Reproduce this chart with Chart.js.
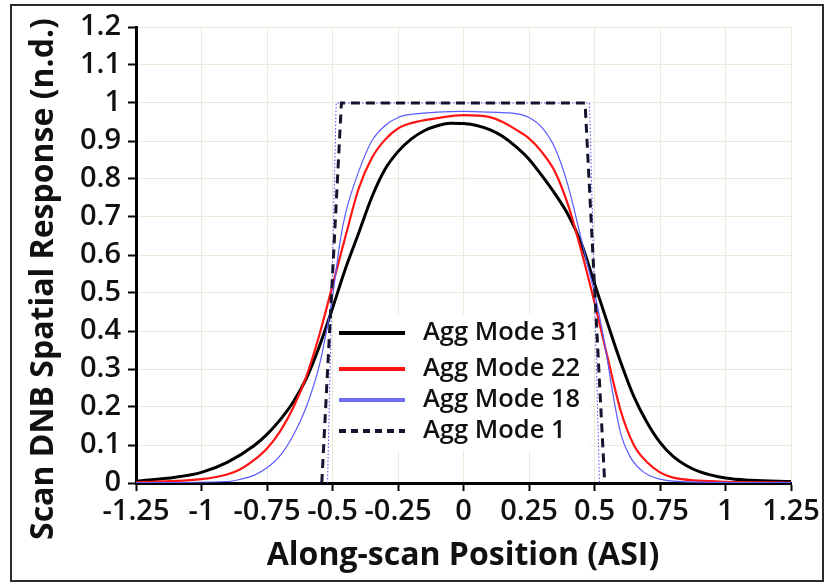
<!DOCTYPE html>
<html>
<head>
<meta charset="utf-8">
<script src="https://cdn.jsdelivr.net/npm/chart.js@4.4.1/dist/chart.umd.min.js"></script>
<style>
  html, body { margin: 0; padding: 0; background: #fff; }
  #wrap { position: relative; width: 837px; height: 584px; }
  #wrap canvas { position: absolute; left: 0; top: 0; }
  #frame { position: absolute; left: 10px; top: 4px; width: 814px; height: 578px;
           border: 2px solid #2b2b2b; box-sizing: border-box; pointer-events: none; }
</style>
</head>
<body>
<div id="wrap">
  <canvas id="respChart" width="837" height="584"></canvas>
  <div id="frame"></div>
</div>
<script>
// ejes
const xTicks = [-1.25, -1, -0.75, -0.5, -0.25, 0, 0.25, 0.5, 0.75, 1, 1.25];
const xTickLabels = ['-1.25', '-1', '-0.75', '-0.5', '-0.25', '0', '0.25', '0.5', '0.75', '1', '1.25'];
const yTicks = [0, 0.1, 0.2, 0.3, 0.4, 0.5, 0.6, 0.7, 0.8, 0.9, 1, 1.1, 1.2];
const yTickLabels = ['0', '0.1', '0.2', '0.3', '0.4', '0.5', '0.6', '0.7', '0.8', '0.9', '1', '1.1', '1.2'];

const xTitle = 'Along-scan Position (ASI)';
const yTitle = 'Scan DNB Spatial Response (n.d.)';
const legendLabels = ['Agg Mode 31', 'Agg Mode 22', 'Agg Mode 18', 'Agg Mode 1'];

// Agg Mode 31 (negro)
const mode31X = [-1.25, -1.1, -1, -0.9, -0.8, -0.75, -0.7, -0.65, -0.6, -0.55, -0.5, -0.45, -0.4, -0.35, -0.3, -0.25, -0.2, -0.15, -0.1, -0.05, 0, 0.05, 0.1, 0.15, 0.2, 0.25, 0.3, 0.35, 0.4, 0.45, 0.5, 0.55, 0.6, 0.65, 0.7, 0.75, 0.8, 0.85, 0.9, 1, 1.1, 1.25];
const mode31Y = [0.005, 0.015, 0.028, 0.055, 0.098, 0.128, 0.166, 0.213, 0.275, 0.36, 0.46, 0.565, 0.658, 0.752, 0.825, 0.872, 0.905, 0.927, 0.94, 0.947, 0.946, 0.941, 0.93, 0.912, 0.885, 0.852, 0.808, 0.76, 0.705, 0.63, 0.525, 0.42, 0.318, 0.228, 0.16, 0.107, 0.07, 0.046, 0.03, 0.013, 0.007, 0.004];

// Agg Mode 22 (rojo)
const mode22X = [-1.25, -1, -0.9, -0.85, -0.8, -0.75, -0.7, -0.65, -0.6, -0.55, -0.5, -0.45, -0.4, -0.35, -0.3, -0.25, -0.2, -0.1, 0, 0.1, 0.15, 0.2, 0.25, 0.3, 0.35, 0.4, 0.45, 0.5, 0.55, 0.6, 0.65, 0.7, 0.75, 0.8, 0.9, 1, 1.25];
const mode22Y = [0.002, 0.01, 0.023, 0.037, 0.06, 0.091, 0.136, 0.198, 0.28, 0.39, 0.52, 0.65, 0.775, 0.855, 0.903, 0.933, 0.947, 0.96, 0.968, 0.963, 0.95, 0.93, 0.907, 0.87, 0.818, 0.73, 0.61, 0.475, 0.33, 0.19, 0.1, 0.055, 0.028, 0.014, 0.006, 0.003, 0.001];

// Agg Mode 18 (azul)
const mode18X = [-1.25, -0.9, -0.85, -0.8, -0.75, -0.7, -0.65, -0.6, -0.55, -0.52, -0.5, -0.47, -0.45, -0.4, -0.35, -0.3, -0.25, -0.2, -0.1, 0, 0.1, 0.2, 0.25, 0.3, 0.35, 0.4, 0.45, 0.475, 0.5, 0.53, 0.55, 0.575, 0.6, 0.635, 0.685, 0.75, 0.85, 1.25];
const mode18Y = [0.001, 0.004, 0.01, 0.02, 0.04, 0.072, 0.125, 0.2, 0.31, 0.41, 0.49, 0.64, 0.71, 0.82, 0.9, 0.94, 0.962, 0.97, 0.976, 0.978, 0.976, 0.972, 0.962, 0.935, 0.88, 0.78, 0.64, 0.57, 0.5, 0.4, 0.32, 0.215, 0.13, 0.07, 0.03, 0.01, 0.003, 0.001];

// Agg Mode 1 (trazos)
const mode1X = [-0.541, -0.466, 0.464, 0.539];
const mode1Y = [0, 1, 1, 0];

// contorno punteado azul
const boxX = [-0.519, -0.486, 0.481, 0.519];
const boxY = [0, 1, 1, 0];

const toPoints = (xs, ys) => xs.map((x, i) => ({ x: x, y: ys[i] }));

const FONT = '"Open Sans", "DejaVu Sans", sans-serif';

const overlayPlugin = {
    id: 'overlay',
    beforeDatasetsDraw(chart) {
        // fondo blanco de la leyenda
        const ctx = chart.ctx;
        ctx.save();
        ctx.fillStyle = '#ffffff';
        ctx.fillRect(334, 314, 256, 136);
        ctx.restore();
    },
    afterDraw(chart) {
        const ctx = chart.ctx;
        ctx.save();

        // leyenda
        const rows = [333, 369, 400, 431];
        chart.data.datasets.forEach((ds) => {
            if (ds.legendIndex === undefined) return;
            const y = rows[ds.legendIndex];
            ctx.beginPath();
            ctx.strokeStyle = ds.legendColor || ds.borderColor;
            ctx.lineWidth = 4;
            ctx.setLineDash(ds.borderDash && ds.borderDash.length ? [7, 5] : []);
            ctx.moveTo(339, y);
            ctx.lineTo(405, y);
            ctx.stroke();
            ctx.setLineDash([]);
            ctx.fillStyle = '#111';
            ctx.font = '600 25.5px ' + FONT;
            ctx.textAlign = 'left';
            ctx.textBaseline = 'middle';
            ctx.fillText(ds.label, 423, y);
        });

        // títulos de ejes
        ctx.fillStyle = '#111';
        ctx.font = '700 32px ' + FONT;
        ctx.textAlign = 'center';
        ctx.textBaseline = 'middle';
        ctx.fillText(xTitle, 463, 556);

        ctx.translate(44, 279);
        ctx.rotate(-Math.PI / 2);
        ctx.fillText(yTitle, 0, 0);
        ctx.restore();
    }
};

const ctx = document.getElementById('respChart').getContext('2d');
const chart = new Chart(ctx, {
    type: 'line',
    data: {
        datasets: [
            {
                label: legendLabels[3],
                data: toPoints(mode1X, mode1Y),
                borderColor: '#14142e',
                borderWidth: 3,
                borderDash: [9, 6],
                tension: 0,
                pointRadius: 0,
                order: 0,
                legendIndex: 3
            },
            {
                label: 'box',
                data: toPoints(boxX, boxY),
                borderColor: '#4d4dff',
                borderWidth: 1,
                borderDash: [1.5, 2],
                tension: 0,
                pointRadius: 0,
                order: 1
            },
            {
                label: legendLabels[2],
                data: toPoints(mode18X, mode18Y),
                borderColor: '#5a5aff',
                legendColor: '#6d6df2',
                borderWidth: 1.2,
                cubicInterpolationMode: 'monotone',
                pointRadius: 0,
                order: 2,
                legendIndex: 2
            },
            {
                label: legendLabels[1],
                data: toPoints(mode22X, mode22Y),
                borderColor: '#ff1414',
                borderWidth: 2.2,
                cubicInterpolationMode: 'monotone',
                pointRadius: 0,
                order: 3,
                legendIndex: 1
            },
            {
                label: legendLabels[0],
                data: toPoints(mode31X, mode31Y),
                borderColor: '#000000',
                borderWidth: 3,
                cubicInterpolationMode: 'monotone',
                pointRadius: 0,
                order: 4,
                legendIndex: 0
            }
        ]
    },
    options: {
        responsive: false,
        animation: false,
        events: [],
        layout: { padding: { top: 27, right: 46, left: 0, bottom: 0 } },
        plugins: {
            legend: { display: false },
            tooltip: { enabled: false }
        },
        scales: {
            x: {
                type: 'linear',
                min: -1.25,
                max: 1.25,
                afterBuildTicks: (scale) => { scale.ticks = xTicks.map(v => ({ value: v })); },
                afterFit: (scale) => { scale.height = 101; },
                grid: { color: '#ecebdb', lineWidth: 1, tickColor: '#000', tickWidth: 2, tickLength: 8 },
                border: { color: '#000', width: 3 },
                ticks: {
                    autoSkip: false,
                    maxRotation: 0,
                    minRotation: 0,
                    padding: 3,
                    color: '#111',
                    font: { family: FONT, size: 29, weight: '600' },
                    callback: (v, i) => xTickLabels[i]
                }
            },
            y: {
                type: 'linear',
                min: 0,
                max: 1.2,
                afterBuildTicks: (scale) => { scale.ticks = yTicks.map(v => ({ value: v })); },
                afterFit: (scale) => { scale.width = 136; },
                grid: { color: '#ecebdb', lineWidth: 1, tickColor: '#000', tickWidth: 2, tickLength: 8 },
                border: { color: '#000', width: 3 },
                ticks: {
                    autoSkip: false,
                    padding: 7,
                    color: '#111',
                    font: { family: FONT, size: 29, weight: '600' },
                    callback: (v, i) => yTickLabels[i]
                }
            }
        }
    },
    plugins: [overlayPlugin]
});
</script>
</body>
</html>
